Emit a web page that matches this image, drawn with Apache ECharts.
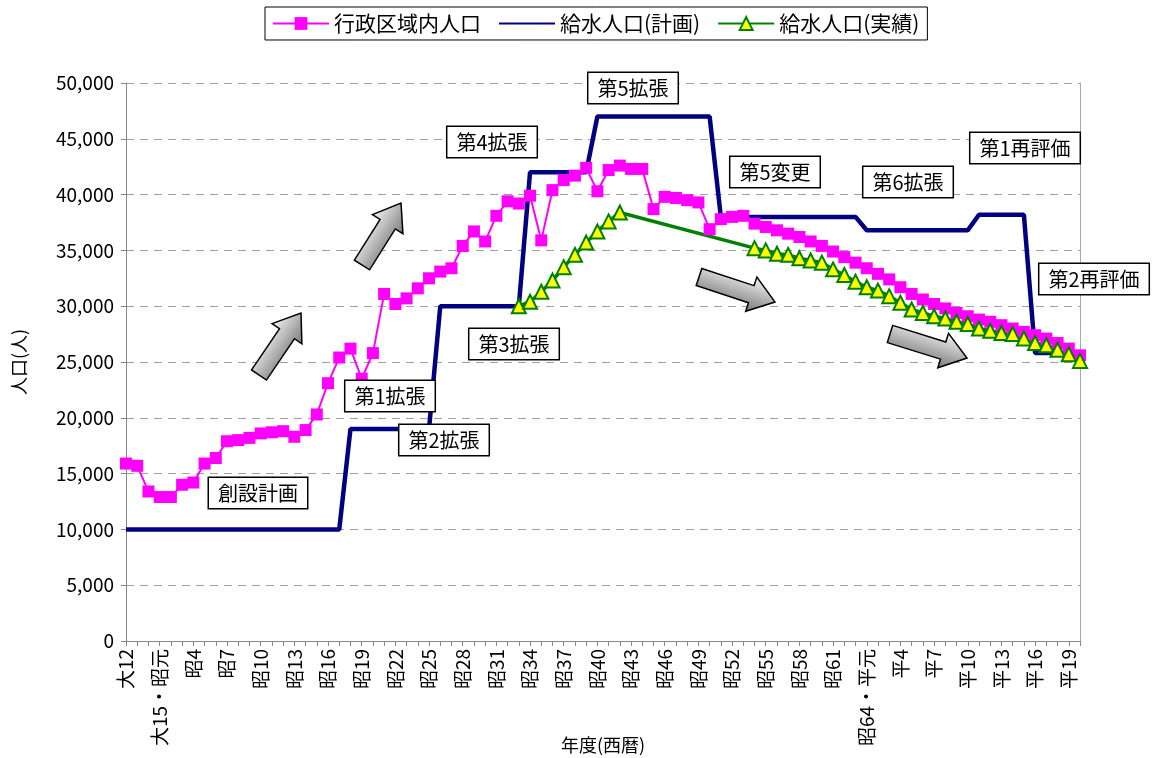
<!DOCTYPE html>
<html>
<head>
<meta charset="utf-8">
<title>給水人口の推移</title>
<style>
  html, body { margin: 0; padding: 0; background: #fff; }
  #chart { width: 1153px; height: 758px; }
</style>
</head>
<body>
<div id="chart"></div>
<script src="https://cdn.jsdelivr.net/npm/echarts@6/dist/echarts.min.js"></script>
<script>
// 年度（和暦） 大12〜平20
const years = [
  '大12', '大13', '大14', '大15・昭元',
  '昭2', '昭3', '昭4', '昭5', '昭6', '昭7', '昭8', '昭9', '昭10', '昭11',
  '昭12', '昭13', '昭14', '昭15', '昭16', '昭17', '昭18', '昭19', '昭20', '昭21',
  '昭22', '昭23', '昭24', '昭25', '昭26', '昭27', '昭28', '昭29', '昭30', '昭31',
  '昭32', '昭33', '昭34', '昭35', '昭36', '昭37', '昭38', '昭39', '昭40', '昭41',
  '昭42', '昭43', '昭44', '昭45', '昭46', '昭47', '昭48', '昭49', '昭50', '昭51',
  '昭52', '昭53', '昭54', '昭55', '昭56', '昭57', '昭58', '昭59', '昭60', '昭61',
  '昭62', '昭63', '昭64・平元',
  '平2', '平3', '平4', '平5', '平6', '平7', '平8', '平9', '平10', '平11',
  '平12', '平13', '平14', '平15', '平16', '平17', '平18', '平19', '平20'
]

// 行政区域内人口
const adminPop = [
  15900, 15700, 13400, 12900, 12900, 14000, 14200, 15900, 16400, 17900,
  18000, 18200, 18600, 18700, 18800, 18300, 18900, 20300, 23100, 25400,
  26200, 23500, 25800, 31100, 30200, 30700, 31600, 32500, 33100, 33400,
  35400, 36700, 35800, 38100, 39400, 39200, 39900, 35900, 40400, 41300,
  41700, 42400, 40300, 42200, 42600, 42300, 42300, 38700, 39800, 39700,
  39500, 39300, 36900, 37800, 38000, 38100, 37400, 37100, 36800, 36500,
  36200, 35800, 35400, 34900, 34400, 33900, 33400, 32900, 32400, 31700,
  31100, 30600, 30200, 29800, 29400, 29100, 28800, 28600, 28300, 28000,
  27700, 27400, 27100, 26700, 26200, 25600
]

// 給水人口（計画）
const planPop = [
  10000, 10000, 10000, 10000, 10000, 10000, 10000, 10000, 10000, 10000,
  10000, 10000, 10000, 10000, 10000, 10000, 10000, 10000, 10000, 10000,
  19000, 19000, 19000, 19000, 19000, 19000, 19000, 19000, 30000, 30000,
  30000, 30000, 30000, 30000, 30000, 30000, 42000, 42000, 42000, 42000,
  42000, 42000, 47000, 47000, 47000, 47000, 47000, 47000, 47000, 47000,
  47000, 47000, 47000, 38000, 38000, 38000, 38000, 38000, 38000, 38000,
  38000, 38000, 38000, 38000, 38000, 38000, 36800, 36800, 36800, 36800,
  36800, 36800, 36800, 36800, 36800, 36800, 38200, 38200, 38200, 38200,
  38200, 25800, 25800, 25800, 25800, 25800
]

// 給水人口（実績） null = データなし
const actualPop = [
  null, null, null, null, null, null, null, null, null, null,
  null, null, null, null, null, null, null, null, null, null,
  null, null, null, null, null, null, null, null, null, null,
  null, null, null, null, null, 30000, 30400, 31300, 32300, 33500,
  34600, 35700, 36700, 37600, 38400, null, null, null, null, null,
  null, null, null, null, null, null, 35200, 35000, 34700, 34600,
  34300, 34100, 33900, 33300, 32800, 32200, 31700, 31400, 30900, 30300,
  29700, 29400, 29100, 28900, 28600, 28400, 28000, 27800, 27600, 27500,
  27100, 26700, 26500, 26100, 25700, 25100
]

const yMax = 50000
const yStep = 5000

const stageLabels = ['創設計画', '第1拡張', '第2拡張', '第3拡張', '第4拡張',
  '第5拡張', '第5変更', '第6拡張', '第1再評価', '第2再評価']

const font = '"Noto Sans CJK JP", "Noto Sans", sans-serif'

// box centres for the stage labels
const stagePos = [
  [258, 493], [390, 396], [444, 440], [514, 344], [492, 142],
  [633, 88], [775, 172], [908, 182], [1025, 148], [1094, 279]
]

// arrows: tail centre, tip
const arrows = [
  [[259, 375], [301, 313]],
  [[362, 265], [401, 203]],
  [[699, 277], [775, 302]],
  [[890, 334], [967, 358]]
]

function arrowShape(len) {
  const head = 25, sw = 9, hw = 18
  return [[0, -sw], [len - head, -sw], [len - head, -hw], [len, 0],
    [len - head, hw], [len - head, sw], [0, sw]]
}

const chart = echarts.init(document.getElementById('chart'))

const graphics = []
arrows.forEach(([tail, tip]) => {
  const dx = tip[0] - tail[0], dy = tip[1] - tail[1]
  graphics.push({
    type: 'polygon',
    x: tail[0], y: tail[1],
    rotation: Math.atan2(-dy, dx),
    shape: { points: arrowShape(Math.sqrt(dx * dx + dy * dy)) },
    style: {
      fill: new echarts.graphic.LinearGradient(0, 0, 0, 1, [
        { offset: 0, color: '#f4f4f4' },
        { offset: 1, color: '#777' },
      ]),
      stroke: '#000',
      lineWidth: 1.5,
    },
    z: 10,
  })
})
stageLabels.forEach((t, i) => {
  graphics.push({
    type: 'text',
    x: stagePos[i][0], y: stagePos[i][1],
    style: {
      text: t,
      font: '20px ' + font,
      fill: '#000',
      align: 'center',
      verticalAlign: 'middle',
      backgroundColor: '#fff',
      borderColor: '#000',
      borderWidth: 1.5,
      padding: [5, 9, 5, 9],
    },
    z: 11,
  })
})

chart.setOption({
  animation: false,
  textStyle: { fontFamily: font },
  legend: {
    left: 265, top: 7,
    padding: [6, 8, 6, 7],
    itemGap: 17,
    itemWidth: 56,
    itemHeight: 16,
    borderColor: '#000',
    borderWidth: 1,
    textStyle: { fontSize: 21, color: '#000', fontFamily: font },
    data: ['行政区域内人口', '給水人口(計画)', '給水人口(実績)'],
  },
  grid: { left: 126, right: 73, top: 83, bottom: 117, outerBoundsMode: 'none' },
  xAxis: {
    type: 'category',
    data: years,
    boundaryGap: false,
    axisLine: { lineStyle: { color: '#888' } },
    axisTick: { interval: 0, length: 5, lineStyle: { color: '#888' } },
    axisLabel: { interval: 2, rotate: 90, margin: 8, fontSize: 19, color: '#000', fontFamily: font },
    name: '年度(西暦)',
    nameLocation: 'middle',
    nameGap: 95,
    nameMoveOverlap: false,
    nameTextStyle: { fontSize: 18, color: '#000', fontFamily: font },
  },
  yAxis: [
    {
      type: 'value',
      min: 0, max: yMax, interval: yStep,
      axisLine: { show: true, lineStyle: { color: '#888' } },
      axisTick: { show: true, length: 5, lineStyle: { color: '#888' } },
      axisLabel: {
        margin: 12, fontSize: 19, color: '#000', fontFamily: font,
        formatter: (v) => v.toLocaleString('en-US'),
      },
      splitLine: { lineStyle: { color: '#a0a0a0', type: [8, 6], width: 1 } },
      name: '人口(人)',
      nameLocation: 'middle',
      nameRotate: 90,
      nameGap: 98,
      nameMoveOverlap: false,
      nameTextStyle: { fontSize: 18, color: '#000', fontFamily: font },
    },
    {
      type: 'value',
      position: 'right',
      min: 0, max: yMax, interval: yStep,
      axisLine: { show: true, lineStyle: { color: '#aaa' } },
      axisTick: { show: false },
      axisLabel: { show: false },
      splitLine: { show: false },
    },
  ],
  series: [
    {
      name: '行政区域内人口',
      type: 'line',
      data: adminPop,
      symbol: 'rect',
      symbolSize: 12,
      showAllSymbol: true,
      lineStyle: { color: '#ff00ff', width: 2 },
      itemStyle: { color: '#ff00ff' },
    },
    {
      name: '給水人口(計画)',
      type: 'line',
      data: planPop,
      symbol: 'none',
      lineStyle: { color: '#000080', width: 4.5 },
      itemStyle: { color: '#000080', opacity: 0 },
    },
    {
      name: '給水人口(実績)',
      type: 'line',
      data: actualPop,
      connectNulls: true,
      symbol: 'triangle',
      symbolSize: 14,
      showAllSymbol: true,
      lineStyle: { color: '#008000', width: 3.5 },
      itemStyle: { color: '#ffff00', borderColor: '#008000', borderWidth: 2 },
    },
  ],
  graphic: graphics,
})
</script>
</body>
</html>
